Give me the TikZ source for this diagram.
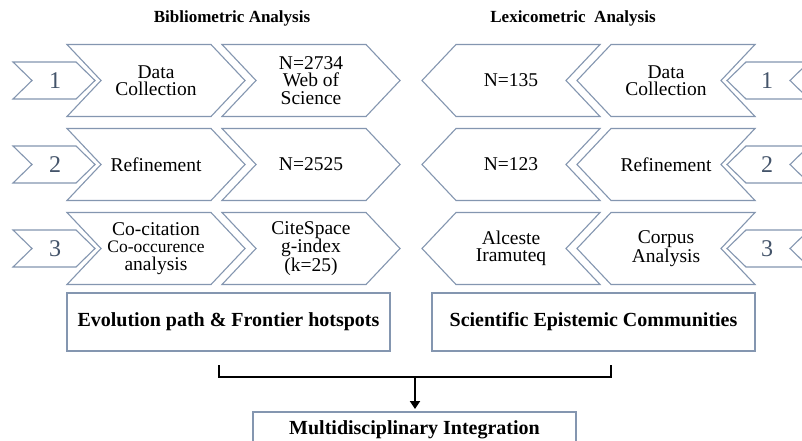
\documentclass[tikz,border=0pt]{standalone}
\usepackage{fontspec}
\setmainfont{Liberation Serif}
\usetikzlibrary{arrows.meta}
\definecolor{chevline}{RGB}{132,150,176}
\definecolor{numcol}{RGB}{68,84,106}
\tikzset{
  chev/.style={draw=chevline, line width=1.1pt, fill=white, line join=miter},
  txt/.style={align=center, font=\fontsize{19.5}{17.5}\selectfont, inner sep=0pt, text=black},
  numtxt/.style={font=\fontsize{24}{24}\selectfont, inner sep=0pt, text=numcol},
  title/.style={font=\fontsize{17}{18}\selectfont\bfseries, inner sep=0pt},
  boxtxt/.style={font=\fontsize{20}{22}\selectfont\bfseries, inner sep=0pt},
  outbox/.style={draw=chevline, line width=1.1pt},
  brack/.style={draw=black, line width=2.6pt, line cap=butt, line join=miter},
}
% big right-pointing chevron: name, left x, center y, text
\newcommand\bigR[4]{%
  \draw[chev] (#2,#3-36) -- (#2+144,#3-36) -- (#2+178,#3) -- (#2+144,#3+36) -- (#2,#3+36) -- (#2+34,#3) -- cycle;
  \node[txt] (#1) at (#2+89,#3) {#4};}
% big left-pointing chevron: name, left (tip) x, center y, text
\newcommand\bigL[4]{%
  \draw[chev] (#2,#3) -- (#2+34,#3-36) -- (#2+178,#3-36) -- (#2+144,#3) -- (#2+178,#3+36) -- (#2+34,#3+36) -- cycle;
  \node[txt] (#1) at (#2+89,#3) {#4};}
% small right-pointing
\newcommand\smR[4]{%
  \draw[chev] (#2,#3-18.5) -- (#2+63,#3-18.5) -- (#2+82,#3) -- (#2+63,#3+18.5) -- (#2,#3+18.5) -- (#2+19,#3) -- cycle;
  \node[numtxt] (#1) at (#2+42,#3) {#4};}
% small left-pointing
\newcommand\smL[4]{%
  \draw[chev] (#2,#3) -- (#2+19,#3-18.5) -- (#2+82,#3-18.5) -- (#2+63,#3) -- (#2+82,#3+18.5) -- (#2+19,#3+18.5) -- cycle;
  \node[numtxt] (#1) at (#2+40,#3) {#4};}
\begin{document}
\begin{tikzpicture}[x=1pt,y=-1pt]
\useasboundingbox (0,0) rectangle (802,441);
\clip (0,0) rectangle (802,441);
\fill[white] (0,0) rectangle (802,441);
% titles
\node[title] (t1) at (232,18) {Bibliometric Analysis};
\node[title] (t2) at (573,18) {Lexicometric\ \ Analysis};
% left side
\smR{n1l}{13}{80.5}{1}
\smR{n2l}{13}{164.5}{2}
\smR{n3l}{13}{248.5}{3}
\bigR{a1}{67}{80.5}{Data\\Collection}
\bigR{a2}{67}{164.5}{Refinement}
\bigR{a3}{67}{248.5}{Co-citation\\{\fontsize{17.5}{17.5}\selectfont Co-occurence}\\analysis}
\bigR{b1}{222}{80.5}{N=2734\\Web of\\Science}
\bigR{b2}{222}{164.5}{N=2525}
\bigR{b3}{222}{248.5}{CiteSpace\\g-index\\(k=25)}
% right side
\bigL{c1}{422}{80.5}{N=135}
\bigL{c2}{422}{164.5}{N=123}
\bigL{c3}{422}{248.5}{Alceste\\Iramuteq}
\bigL{d1}{577}{80.5}{Data\\Collection}
\bigL{d2}{577}{164.5}{Refinement}
\bigL{d3}{577}{248.5}{Corpus\\Analysis}
\smL{n1r}{727}{80.5}{1}
\smL{n2r}{727}{164.5}{2}
\smL{n3r}{727}{248.5}{3}
% result boxes
\draw[outbox] (67,293) rectangle (390,351);
\node[boxtxt] (e1) at (228.5,322) {Evolution path \& Frontier hotspots};
\draw[outbox] (432,293) rectangle (755,351);
\node[boxtxt] (e2) at (593.5,322) {Scientific Epistemic Communities};
\draw[outbox] (253,412) rectangle (576,470);
\node[boxtxt] (m) at (414.5,430) {Multidisciplinary Integration};
% bracket and arrow
\coordinate (bl) at (219,365);
\coordinate (br) at (611,365);
\coordinate (bm) at (415,377);
\coordinate (bt) at (415,409);
\draw[brack] (bl) |- (bm) -| (br);
\draw[black, line width=2.4pt, -{Triangle[length=8pt,width=10pt]}] (bm) -- (bt);
\end{tikzpicture}
\end{document}
